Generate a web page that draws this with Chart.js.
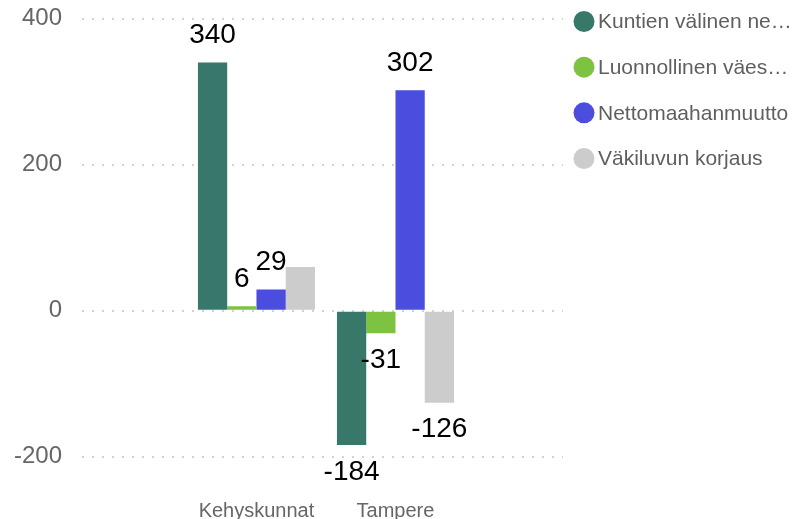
<!DOCTYPE html>
<html>
<head>
<meta charset="utf-8">
<script src="https://cdn.jsdelivr.net/npm/chart.js@4.4.1/dist/chart.umd.min.js"></script>
<style>
  html, body { margin: 0; padding: 0; background: #fff; }
  #wrap { width: 795px; height: 519px; position: relative; }
</style>
</head>
<body>
<div id="wrap"><canvas id="chart"></canvas></div>
<script>
// data
const categories = ['Kehyskunnat', 'Tampere'];
const seriesNames = ['Kuntien välinen nettomuutto', 'Luonnollinen väestönlisäys', 'Nettomaahanmuutto', 'Väkiluvun korjaus'];
const kuntienValinen = [340, -184];
const luonnollinen = [6, -31];
const nettomaahanmuutto = [29, 302];
const korjaus = [60, -126];
const yTicks = [-200, 0, 200, 400];

const seriesValues = [kuntienValinen, luonnollinen, nettomaahanmuutto, korjaus];
const colors = ['#37786B', '#7EC242', '#4B4DDE', '#CCCCCC'];
const FONT = '"Liberation Sans", Arial, sans-serif';

// value labels above / below bars, hidden when they collide (like Power BI)
const valueLabels = {
    id: 'valueLabels',
    afterDatasetsDraw(chart) {
        const ctx = chart.ctx;
        ctx.save();
        ctx.font = '28px ' + FONT;
        ctx.fillStyle = '#000';
        ctx.textAlign = 'center';
        ctx.textBaseline = 'middle';
        const boxes = [];
        categories.forEach((c, i) => {
            chart.data.datasets.forEach((ds, d) => {
                const el = chart.getDatasetMeta(d).data[i];
                const v = ds.data[i].y;
                const text = String(v);
                const w = ctx.measureText(text).width;
                const y = v >= 0 ? el.y - 27 : el.y + 27;
                const box = { l: el.x - w / 2, r: el.x + w / 2, t: y - 16, b: y + 16 };
                const hit = boxes.some(o => box.l < o.r && box.r > o.l && box.t < o.b && box.b > o.t);
                if (hit) return;
                boxes.push(box);
                ctx.fillText(text, el.x, y);
            });
        });
        ctx.restore();
    }
};

// legend on the right with truncated names
const sideLegend = {
    id: 'sideLegend',
    afterDraw(chart, args, opts) {
        const ctx = chart.ctx;
        ctx.save();
        ctx.font = '21px ' + FONT;
        ctx.textBaseline = 'middle';
        ctx.textAlign = 'left';
        const maxW = chart.width - opts.textX - 2;
        chart.data.datasets.forEach((ds, i) => {
            const y = opts.top + i * opts.gap;
            ctx.fillStyle = ds.backgroundColor;
            ctx.beginPath();
            ctx.arc(opts.circleX, y, 10.5, 0, Math.PI * 2);
            ctx.fill();
            let text = ds.label;
            if (ctx.measureText(text).width > maxW) {
                while (text.length && ctx.measureText(text + '…').width > maxW) {
                    text = text.slice(0, -1);
                }
                text = text.trimEnd() + '…';
            }
            ctx.fillStyle = '#5f5f5f';
            ctx.fillText(text, opts.textX, y + 1);
        });
        ctx.restore();
    }
};

new Chart(document.getElementById('chart'), {
    type: 'bar',
    data: {
        datasets: seriesNames.map((name, d) => ({
            label: name,
            data: categories.map((c, i) => ({ x: i, y: seriesValues[d][i] })),
            backgroundColor: colors[d],
            borderWidth: 0,
            categoryPercentage: 0.842,
            barPercentage: 1
        }))
    },
    options: {
        responsive: true,
        maintainAspectRatio: false,
        animation: false,
        layout: { padding: { top: 18.7, right: 232, left: 0, bottom: 0 } },
        plugins: {
            legend: { display: false },
            tooltip: { enabled: false },
            sideLegend: { circleX: 584, textX: 598, top: 21.5, gap: 45.67 }
        },
        scales: {
            x: {
                type: 'linear',
                offset: false,
                min: -1.255,
                max: 2.205,
                grid: { display: false },
                border: { display: false },
                afterBuildTicks: scale => { scale.ticks = categories.map((c, i) => ({ value: i })); },
                afterFit: scale => { scale.height = 62.3; },
                ticks: {
                    autoSkip: false,
                    maxRotation: 0,
                    padding: 35,
                    color: '#666',
                    font: { size: 20, family: FONT },
                    callback: v => categories[v] ?? ''
                }
            },
            y: {
                min: -200,
                max: 400,
                afterBuildTicks: scale => { scale.ticks = yTicks.map(v => ({ value: v })); },
                afterFit: scale => {
                    scale.width = 82;
                    scale.paddingTop = 0;
                    scale.paddingBottom = 0;
                },
                grid: { color: '#d2d2d2', lineWidth: 2, drawTicks: false },
                border: { display: false, dash: [2, 8] },
                ticks: {
                    padding: 20,
                    color: '#666',
                    font: { size: 24, family: FONT }
                }
            }
        }
    },
    plugins: [valueLabels, sideLegend]
});
</script>
</body>
</html>
